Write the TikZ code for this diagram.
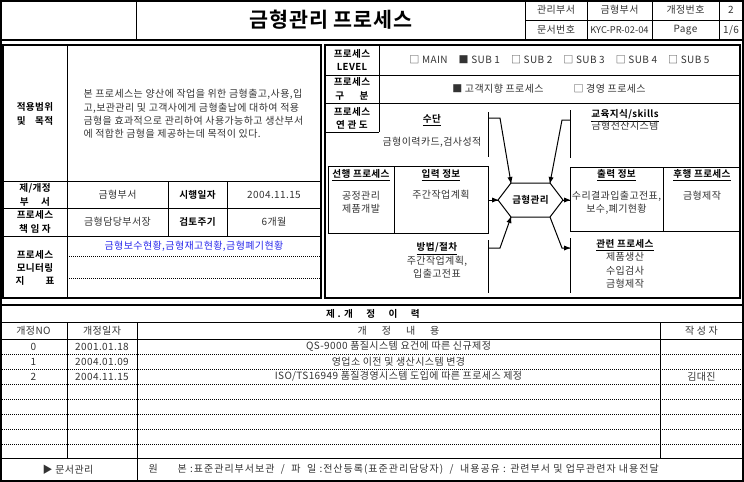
\documentclass[tikz,border=0pt]{standalone}
\usepackage{fontspec}
\setmainfont{Noto Sans CJK KR}[BoldFont={Noto Sans CJK KR Bold},LetterSpace=4]
\definecolor{kpiblue}{RGB}{40,40,235}

\tikzset{every picture/.style={line width=0.75pt}}
\tikzset{
  txt/.style={inner sep=0.75pt, align=center, text=black!80, font=\fontsize{7.5}{10}\selectfont},
  lbl/.style={inner sep=0.75pt, align=center, font=\fontsize{7.2}{10}\selectfont\bfseries},
  ttl/.style={inner sep=0.75pt, font=\fontsize{15.5}{18}\selectfont\bfseries},
  dots/.style={dash pattern=on 0.75pt off 0.75pt},
  frame/.style={line width=1.5pt},
  box/.style={line width=1.1pt},
  headfill/.style={fill=black, line width=0.08, draw opacity=0},
}

\begin{document}
\begin{tikzpicture}[x=0.75pt,y=0.75pt,yscale=-1,xscale=1]
\useasboundingbox (0,0) rectangle (744,482);

%Shape: Rectangle [outer frame]
\draw [frame] (0.75,0.75) -- (743.25,0.75) -- (743.25,481.25) -- (0.75,481.25) -- cycle ;
%Straight Lines [header]
\draw [frame] (0,40) -- (744,40) ;
\draw (136,0) -- (136,40) ;
\draw (525,0) -- (525,40) ;
\draw (587,0) -- (587,40) ;
\draw (652,0) -- (652,40) ;
\draw (719,0) -- (719,40) ;
\draw (525,20) -- (744,20) ;

% Text Node
\draw (331,20) node [ttl] (docTitle) {금형관리 프로세스};
% Text Node
\draw (556,10) node [txt] (deptKey) {관리부서};
\draw (619.5,10) node [txt] (deptVal) {금형부서};
\draw (685.5,10) node [txt] (revKey) {개정번호};
\draw (731,10) node [txt] (revVal) {2};
\draw (556,30) node [txt] (docKey) {문서번호};
\draw (619.5,30) node [txt, font=\fontsize{7}{9}\selectfont\addfontfeature{LetterSpace=0}] (docVal) {KYC-PR-02-04};
\draw (685.5,30) node [txt] (pageKey) {Page};
\draw (731,30) node [txt] (pageVal) {1/6};

%Shape: Rectangle [info table]
\draw [box] (3,45) -- (321,45) -- (321,298) -- (3,298) -- cycle ;
%Straight Lines
\draw (3,181) -- (321,181) ;
\draw (3,208) -- (321,208) ;
\draw (3,236) -- (321,236) ;
\draw (67,45) -- (67,298) ;
\draw (168,181) -- (168,236) ;
\draw (227,181) -- (227,236) ;
\draw [dots] (67,256) -- (321,256) ;
\draw [dots] (67,278) -- (321,278) ;

% Text Node
\draw (35,114) node [lbl] (scopeLbl) {적용범위\\및\quad 목적};
\draw (82,114) node [txt, anchor=west, align=left] (scopeTxt) {본 프로세스는 양산에 작업을 위한 금형출고,사용,입\\고,보관관리 및 고객사에게 금형출납에 대하여 적용\\금형을 효과적으로 관리하여 사용가능하고 생산부서\\에 적합한 금형을 제공하는데 목적이 있다.};
\draw (35,195) node [lbl] (ownDeptLbl) {제/개정\\부\hspace{1.3em}서};
\draw (117.5,195) node [txt] (ownDept) {금형부서};
\draw (197.5,195) node [lbl] (startLbl) {시행일자};
\draw (274,195) node [txt] (startDate) {2004.11.15};
\draw (35,222) node [lbl] (ownerLbl) {프로세스\\책 임 자};
\draw (117.5,222) node [txt] (owner) {금형담당부서장};
\draw (197.5,222) node [lbl] (cycleLbl) {검토주기};
\draw (274,222) node [txt] (cycle) {6개월};
\draw (35,268) node [lbl] (kpiLbl) {프로세스\\모니터링\\지\hspace{2.2em}표};
\draw (194,246) node [txt, text=kpiblue] (kpi) {금형보수현황,금형재고현황,금형폐기현황};

%Shape: Rectangle [process box]
\draw [box] (325,45) -- (740,45) -- (740,298) -- (325,298) -- cycle ;
%Straight Lines
\draw (325,75) -- (740,75) ;
\draw (325,103) -- (740,103) ;
\draw (379,45) -- (379,132) ;
\draw (325,132) -- (379,132) ;

% Text Node
\draw (352,60) node [lbl] (levelLbl) {프로세스\\LEVEL};
\draw (559.5,60) node [txt] (levelVal) {□ MAIN\hspace{1.1em}■ SUB 1\hspace{1.1em}□ SUB 2\hspace{1.1em}□ SUB 3\hspace{1.1em}□ SUB 4\hspace{1.1em}□ SUB 5};
\draw (549,89) node [txt] (kindVal) {■ 고객지향 프로세스\hspace{3em}□ 경영 프로세스};
\draw (352,89) node [lbl] (kindLbl) {프로세스\\구\hspace{1.6em}분};
\draw (352,118) node [lbl] (mapLbl) {프로세스\\연 관 도};

%Shape: Rectangle [map boxes]
\draw (328,166) rectangle (394,233) ;
\draw (394,166) rectangle (488,233) ;
\draw (570,167) rectangle (663,231) ;
\draw (663,167) rectangle (740,231) ;

% coordinates of the map
\coordinate (hexW) at (498,200);
\coordinate (hexNW) at (511,183);
\coordinate (hexNE) at (550,183);
\coordinate (hexE) at (563,200);
\coordinate (hexSE) at (550,217);
\coordinate (hexSW) at (511,217);
\coordinate (inEdge) at (488,200);
\coordinate (outEdge) at (570,200);
\coordinate (meansTop) at (488,112);
\coordinate (meansBot) at (488,157);
\coordinate (meansArm) at (488,118);
\coordinate (meansKnee) at (500,118);
\coordinate (methodTop) at (488,240);
\coordinate (methodBot) at (488,293);
\coordinate (methodArm) at (488,248);
\coordinate (methodKnee) at (500,248);
\coordinate (skillTop) at (570,110);
\coordinate (skillBot) at (570,158);
\coordinate (skillArm) at (570,120);
\coordinate (skillKnee) at (562,120);
\coordinate (relTop) at (570,238);
\coordinate (relBot) at (570,293);
\coordinate (relArm) at (570,248);
\coordinate (relKnee) at (562,248);

%Shape: Hexagon
\draw (hexW) -- (hexNW) -- (hexNE) -- (hexE) -- (hexSE) -- (hexSW) -- cycle ;
\draw (530.5,200) node [lbl] (core) {금형관리};

%Straight Lines
\draw (meansTop) -- (meansBot) ;
\draw (meansArm) -- (meansKnee) -- (hexNW) ;
\draw [shift={(hexNW)}, rotate = 260.4] [headfill] (6,-2.5) -- (0,0) -- (6,2.5) -- cycle ;
%Straight Lines
\draw (methodTop) -- (methodBot) ;
\draw (methodArm) -- (methodKnee) -- (hexSW) ;
\draw [shift={(hexSW)}, rotate = 109.5] [headfill] (6,-2.5) -- (0,0) -- (6,2.5) -- cycle ;
%Straight Lines
\draw (skillTop) -- (skillBot) ;
\draw (skillArm) -- (skillKnee) -- (hexNE) ;
\draw [shift={(hexNE)}, rotate = 280.8] [headfill] (6,-2.5) -- (0,0) -- (6,2.5) -- cycle ;
%Straight Lines
\draw (relTop) -- (relBot) ;
\draw (hexSE) -- (relKnee) -- (relArm) ;
\draw [shift={(relArm)}, rotate = 180] [headfill] (6,-2.5) -- (0,0) -- (6,2.5) -- cycle ;
%Straight Lines
\draw (inEdge) -- (hexW) ;
\draw [shift={(hexW)}, rotate = 180] [headfill] (6,-2.5) -- (0,0) -- (6,2.5) -- cycle ;
\draw (hexE) -- (outEdge) ;
\draw [shift={(outEdge)}, rotate = 180] [headfill] (6,-2.5) -- (0,0) -- (6,2.5) -- cycle ;

% Text Node
\draw (432,120) node [lbl] (meansHd) {\underline{수단}};
\draw (432,142) node [txt] (meansTxt) {금형이력카드,검사성적};
\draw (625,116) node [lbl] (skillHd) {\underline{교육지식/skills}};
\draw (625,126) node [txt] (skillTxt) {금형전산시스템};
\draw (361,175) node [lbl] (prevHd) {\underline{선행 프로세스}};
\draw (361,202) node [txt] (prevTxt) {공정관리\\제품개발};
\draw (441,175) node [lbl] (inHd) {\underline{입력 정보}};
\draw (441,195) node [txt] (inTxt) {주간작업계획};
\draw (616.5,175) node [lbl] (outHd) {\underline{출력 정보}};
\draw (616.5,203) node [txt] (outTxt) {수리결과입출고전표,\\보수,폐기현황};
\draw (702,175) node [lbl] (nextHd) {\underline{후행 프로세스}};
\draw (702,196) node [txt] (nextTxt) {금형제작};
\draw (437,249) node [lbl] (methodHd) {\underline{방법/절차}};
\draw (437,267) node [txt] (methodTxt) {주간작업계획,\\입출고전표};
\draw (625,245.5) node [lbl] (relHd) {\underline{관련 프로세스}};
\draw (625,270.5) node [txt] (relTxt) {제품생산\\수입검사\\금형제작};

%Straight Lines [history table]
\draw [frame] (0,305) -- (744,305) ;
\draw (0,322) -- (744,322) ;
\draw (0,339) -- (744,339) ;
\draw [dots] (0,354) -- (744,354) ;
\draw [dots] (0,369) -- (744,369) ;
\draw [dots] (0,384) -- (744,384) ;
\draw [dots] (0,399) -- (744,399) ;
\draw [dots] (0,414) -- (744,414) ;
\draw [dots] (0,429) -- (744,429) ;
\draw [dots] (0,444) -- (744,444) ;
\draw (0,458) -- (744,458) ;
\draw (67,322) -- (67,458) ;
\draw (137,322) -- (137,481) ;
\draw (660,322) -- (660,458) ;

% Text Node
\draw (373,314) node [lbl] (histTitle) {제 . 개\hspace{1.4em}정\hspace{1.4em}이\hspace{1.4em}력};
\draw (33.5,331) node [txt] (noHd) {개정NO};
\draw (102,331) node [txt] (dateHd) {개정일자};
\draw (398.5,331) node [txt] (bodyHd) {개\hspace{1.5em}정\hspace{1.5em}내\hspace{1.5em}용};
\draw (701.5,331) node [txt] (authHd) {작 성 자};
\draw (33.5,346.5) node [txt] (noA) {0};
\draw (102,346.5) node [txt] (dateA) {2001.01.18};
\draw (398.5,346.5) node [txt] (bodyA) {QS-9000 품질시스템 요건에 따른 신규제정};
\draw (33.5,361.5) node [txt] (noB) {1};
\draw (102,361.5) node [txt] (dateB) {2004.01.09};
\draw (398.5,361.5) node [txt] (bodyB) {영업소 이전 및 생산시스템 변경};
\draw (33.5,376.5) node [txt] (noC) {2};
\draw (102,376.5) node [txt] (dateC) {2004.11.15};
\draw (398.5,376.5) node [txt] (bodyC) {ISO/TS16949 품질경영시스템 도입에 따른 프로세스 제정};
\draw (701.5,376.5) node [txt] (authC) {김대진};
\draw (68,469.5) node [txt] (mgmtLbl) {▶ 문서관리};
\draw (147,469.5) node [txt, anchor=west, font=\fontsize{7.5}{10}\selectfont\addfontfeature{LetterSpace=10}] (mgmtTxt) {원\hspace{2em}본 :표준관리부서보관\ \ /\ \ 파\ \ 일 :전산등록(표준관리담당자)\ \ /\ \ 내용공유 : 관련부서 및 업무관련자 내용전달};

\end{tikzpicture}
\end{document}
